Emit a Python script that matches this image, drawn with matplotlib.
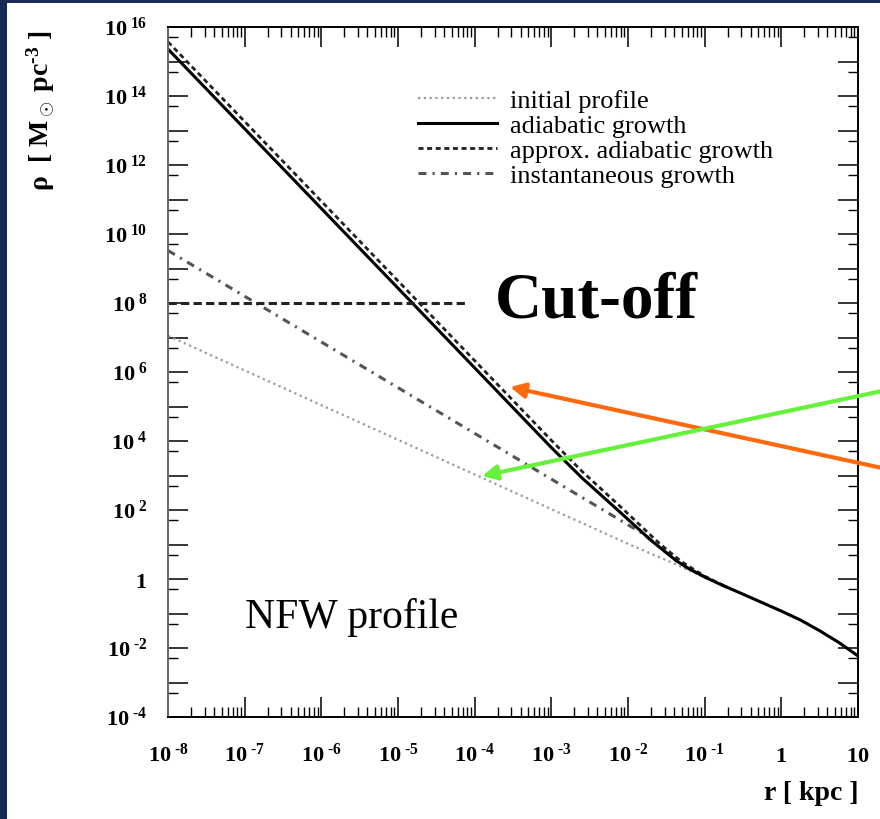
import numpy as np
import matplotlib
matplotlib.use("Agg")
import matplotlib.pyplot as plt
from matplotlib.patches import Rectangle
from matplotlib.ticker import FixedLocator, LogLocator, NullFormatter
from matplotlib.transforms import ScaledTranslation

plt.rcParams["font.family"] = "Liberation Serif"
plt.rcParams["mathtext.fontset"] = "custom"
plt.rcParams["mathtext.rm"] = "Liberation Serif"
plt.rcParams["mathtext.it"] = "Liberation Serif:italic"
plt.rcParams["mathtext.bf"] = "Liberation Serif:bold"

# values, as log10(r / kpc) and log10(rho / Msun pc^-3)
initial_logr = [-8, -4, -2, -1.4, -1.0, -0.5, 0.0, 0.25, 0.5, 0.75, 1.0]
initial_logrho = [7.05, 3.03, 1.02, 0.45, 0.04, -0.44, -0.93, -1.19, -1.5, -1.84, -2.23]

adiabatic_logr = [-8, -5, -3, -2.6, -2.1, -1.7, -1.37, -1.2, -1.0, -0.8,
                  -0.5, 0.0, 0.25, 0.5, 0.75, 1.0]
adiabatic_logrho = [15.36, 8.43, 3.81, 2.93, 1.93, 1.12, 0.53, 0.29, 0.06, -0.15,
                    -0.44, -0.93, -1.19, -1.5, -1.84, -2.23]

approx_logr = [-8, -5, -3, -2.6, -2.1, -1.58, -1.3, -1.0, -0.7]
approx_logrho = [15.57, 8.64, 4.02, 3.12, 2.1, 1.01, 0.5, 0.08, -0.25]

instant_logr = [-8, -4, -2, -1.8, -1.37, -1.2, -1.0, -0.7]
instant_logrho = [9.52, 4.22, 1.57, 1.31, 0.53, 0.29, 0.06, -0.25]

cutoff_rho = 1e8
cutoff_r = [1e-8, 8.2e-5]

legend_labels = ["initial profile", "adiabatic growth",
                 "approx. adiabatic growth", "instantaneous growth"]

x_exps = list(range(-8, 2))
y_exps = list(range(-4, 17))

HYPHEN = "\u2010"


def p10(v):
    return 10.0 ** np.asarray(v, dtype=float)


def exp_label(k):
    if k == 0:
        return r"$\mathbf{1}$"
    if k == 1:
        return r"$\mathbf{10}$"
    e = str(k).replace("-", HYPHEN)
    return r"$\mathbf{10^{\ %s}}$" % e


fig = plt.figure(figsize=(8.8, 8.2), dpi=100, facecolor="#172a58")
fig.add_artist(Rectangle((7 / 880, 0), 1, 816 / 820, transform=fig.transFigure,
                         facecolor="white", edgecolor="none", zorder=-1))

ax = fig.add_axes([168 / 880, 102 / 820, 690 / 880, 690 / 820])
ax.set_xscale("log")
ax.set_yscale("log")

ax.plot(p10(initial_logr), p10(initial_logrho), color="#9a9a9a", lw=1.6,
        ls=(0, (1, 1.6)), label=legend_labels[0])
ax.plot(p10(instant_logr), p10(instant_logrho), color="#555555", lw=2.2,
        ls=(0, (2.6, 2.0, 0.7, 2.0)), label=legend_labels[3])
ax.plot(p10(approx_logr), p10(approx_logrho), color="#222222", lw=2.0,
        ls=(0, (1.8, 1.3)), label=legend_labels[2])
ax.plot(p10(adiabatic_logr), p10(adiabatic_logrho), color="black", lw=2.2,
        label=legend_labels[1])
ax.plot(cutoff_r, [cutoff_rho, cutoff_rho], color="#222222", lw=2.2,
        ls=(0, (2.7, 1.4)))

ax.set_xlim(1e-8, 10)
ax.set_ylim(1e-4, 1e16)

handles, labels = ax.get_legend_handles_labels()
order = [labels.index(l) for l in legend_labels]
ax.legend([handles[i] for i in order], [labels[i] for i in order],
          loc="upper left", bbox_to_anchor=(0.362, 0.911), frameon=False,
          fontsize=19, handlelength=3.0, handletextpad=0.5,
          labelspacing=0.06, borderpad=0, borderaxespad=0)

ax.text(0.474, 0.58, "Cut-off", transform=ax.transAxes, fontsize=47,
        fontweight="bold", ha="left", va="baseline")
ax.text(0.1116, 0.13, "NFW profile", transform=ax.transAxes, fontsize=30,
        ha="left", va="baseline")

# ticks
ax.set_xticks(p10(x_exps), labels=[exp_label(k) for k in x_exps])
ax.xaxis.set_minor_locator(LogLocator(base=10, subs=np.arange(2, 10), numticks=100))
ax.xaxis.set_minor_formatter(NullFormatter())
ax.set_yticks(p10(y_exps), labels=[exp_label(k) if k % 2 == 0 else "" for k in y_exps])
ax.yaxis.set_minor_locator(FixedLocator(5 * p10(range(-5, 16))))
ax.yaxis.set_minor_formatter(NullFormatter())

ax.tick_params(which="major", direction="in", length=14.4, width=1.1,
               top=True, right=True, labelsize=16)
ax.tick_params(which="minor", direction="in", length=7.2, width=1.0,
               top=True, right=True)
ax.tick_params(axis="x", which="major", pad=31.7)
ax.tick_params(axis="y", which="major", pad=15)

for t in ax.xaxis.get_major_ticks():
    t.label1.set_verticalalignment("baseline")
shift = ScaledTranslation(0, -0.08, fig.dpi_scale_trans)
for t in ax.yaxis.get_major_ticks():
    t.label1.set_verticalalignment("baseline")
    t.label1.set_transform(t.label1.get_transform() + shift)

for side in ["top", "right", "bottom"]:
    ax.spines[side].set_linewidth(1.4)
ax.spines["left"].set_linewidth(1.4)
ax.spines["left"].set_color("#666666")

ax.set_xlabel("r [ kpc ]", fontsize=20, fontweight="bold", loc="right")
ax.xaxis.set_label_coords(1.0, -0.092)
ax.set_ylabel("\u03c1  [ M$_\\odot$ pc$^{\\mathbf{%s3}}$ ]" % HYPHEN, fontsize=20,
              fontweight="bold", loc="top")
ax.yaxis.set_label_coords(-0.161, 0.997)

# coloured pointers, figure pixels (origin bottom left)
ax.annotate("", xy=(510, 432), xycoords="figure pixels",
            xytext=(882, 351), textcoords="figure pixels",
            arrowprops=dict(arrowstyle="-|>", color="#ff6a0f", lw=3,
                            mutation_scale=22, shrinkA=0, shrinkB=0),
            annotation_clip=False)
ax.annotate("", xy=(482, 343), xycoords="figure pixels",
            xytext=(882, 428), textcoords="figure pixels",
            arrowprops=dict(arrowstyle="-|>", color="#66f23a", lw=3,
                            mutation_scale=22, shrinkA=0, shrinkB=0),
            annotation_clip=False)

fig.savefig("out.png", dpi=100, facecolor=fig.get_facecolor())
